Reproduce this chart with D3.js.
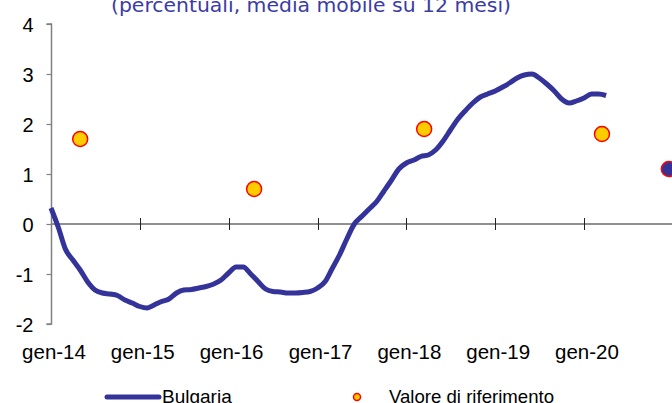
<!DOCTYPE html>
<html>
<head>
<meta charset="utf-8">
<script src="https://cdn.jsdelivr.net/npm/d3@7"></script>
<style>
  html, body { margin: 0; padding: 0; background: #fff; }
  svg { display: block; }
</style>
</head>
<body>
<svg id="chart" width="672" height="403"></svg>
<script>
// Bulgaria, monthly values from gen-14 to apr-20
var bulgariaStart = new Date(2014, 0, 1);
var bulgaria = [
    0.32, -0.08, -0.5, -0.72, -0.92, -1.16, -1.32, -1.38, -1.40, -1.43, -1.52, -1.58,
    -1.65, -1.68, -1.62, -1.55, -1.50, -1.38, -1.32, -1.31, -1.28, -1.25, -1.20, -1.12,
    -0.98, -0.86, -0.86, -1.00, -1.15, -1.30, -1.35, -1.36, -1.38, -1.38, -1.37, -1.35,
    -1.28, -1.15, -0.90, -0.62, -0.30, 0.00, 0.15, 0.30, 0.45, 0.66, 0.88, 1.10,
    1.22, 1.28, 1.35, 1.38, 1.48, 1.66, 1.88, 2.10, 2.27, 2.42, 2.54, 2.60,
    2.66, 2.74, 2.82, 2.92, 2.98, 3.00, 2.92, 2.80, 2.66, 2.50, 2.42, 2.46,
    2.52, 2.60, 2.60, 2.57
];
// Valore di riferimento
var refDates = [new Date(2014, 4, 1), new Date(2016, 3, 15), new Date(2018, 2, 15), new Date(2020, 2, 15)];
var refValues = [1.7, 0.7, 1.9, 1.8];
// last Bulgaria point
var lastDate = [new Date(2020, 11, 15)];
var lastValue = [1.1];

var yTicks = [-2, -1, 0, 1, 2, 3, 4];
var xTickYears = [2014, 2015, 2016, 2017, 2018, 2019, 2020];
var xTickLabels = ['gen-14', 'gen-15', 'gen-16', 'gen-17', 'gen-18', 'gen-19', 'gen-20'];

var svg = d3.select('#chart');
var x = d3.scaleTime().domain([new Date(2014, 0, 1), new Date(2021, 0, 1)]).range([51, 673]);
var y = d3.scaleLinear().domain([-2, 4]).range([324, 24]);

var font = '"Liberation Sans", Arial, sans-serif';

// title (cut at the top)
svg.append('text')
   .attr('x', 111).attr('y', 12)
   .attr('textLength', 400).attr('lengthAdjust', 'spacingAndGlyphs')
   .style('font-family', '"DejaVu Sans", sans-serif')
   .style('font-size', '19px')
   .style('fill', '#3b3ba6')
   .text('(percentuali, media mobile su 12 mesi)');

// zero line and year ticks
svg.append('line')
   .attr('x1', 51).attr('x2', 672)
   .attr('y1', y(0)).attr('y2', y(0))
   .attr('stroke', '#222').attr('stroke-width', 1);
svg.selectAll('.xtick').data(xTickYears).enter().append('line')
   .attr('class', 'xtick')
   .attr('x1', function(d) { return Math.round(x(new Date(d, 0, 1))) + 0.5; })
   .attr('x2', function(d) { return Math.round(x(new Date(d, 0, 1))) + 0.5; })
   .attr('y1', y(0) - 6).attr('y2', y(0) + 6)
   .attr('stroke', '#222').attr('stroke-width', 1);

// y axis
var yAxis = d3.axisLeft(y).tickValues(yTicks).tickSize(5).tickPadding(13)
              .tickFormat(function(d) { return String(d); });
var yg = svg.append('g').attr('transform', 'translate(51.5,0)').call(yAxis);
yg.select('.domain').attr('stroke', '#808080').attr('stroke-width', 1.5)
  .attr('d', 'M-5,' + y(4) + 'H0V' + y(-2) + 'H-5');
yg.selectAll('.tick line').attr('stroke', '#808080').attr('stroke-width', 1.2);
yg.selectAll('.tick text')
  .style('font-family', font).style('font-size', '20px').style('fill', '#000')
  .attr('dy', '0.36em');

// x labels
svg.selectAll('.xlabel').data(xTickYears).enter().append('text')
   .attr('class', 'xlabel')
   .attr('x', function(d) { return x(new Date(d, 0, 1)) + 3; })
   .attr('y', 359)
   .attr('text-anchor', 'middle')
   .style('font-family', font).style('font-size', '20.5px').style('fill', '#000')
   .text(function(d, i) { return xTickLabels[i]; });

// Bulgaria line
var line = d3.line()
    .x(function(d, i) { return x(d3.timeMonth.offset(bulgariaStart, i)); })
    .y(function(d) { return y(d); })
    .curve(d3.curveMonotoneX);
svg.append('path').datum(bulgaria)
   .attr('d', line)
   .attr('fill', 'none').attr('stroke', '#333399').attr('stroke-width', 5)
   .attr('stroke-linejoin', 'round');

// reference points
svg.selectAll('.ref').data(refValues).enter().append('circle')
   .attr('class', 'ref')
   .attr('cx', function(d, i) { return x(refDates[i]); })
   .attr('cy', function(d) { return y(d); })
   .attr('r', 7.5)
   .attr('fill', '#ffcc00').attr('stroke', '#ff0000').attr('stroke-width', 1.5);

svg.selectAll('.last').data(lastValue).enter().append('circle')
   .attr('class', 'last')
   .attr('cx', function(d, i) { return x(lastDate[i]); })
   .attr('cy', function(d) { return y(d); })
   .attr('r', 7.5)
   .attr('fill', '#333399').attr('stroke', '#ff0000').attr('stroke-width', 1.5);

// legend
var legend = svg.append('g');
legend.append('line')
      .attr('x1', 107).attr('x2', 159).attr('y1', 397).attr('y2', 397)
      .attr('stroke', '#333399').attr('stroke-width', 5).attr('stroke-linecap', 'round');
legend.append('text').attr('x', 162).attr('y', 403)
      .style('font-family', font).style('font-size', '19px').text('Bulgaria');
legend.append('circle').attr('cx', 357).attr('cy', 397).attr('r', 3.5)
      .attr('fill', '#ffcc00').attr('stroke', '#ff0000').attr('stroke-width', 1.5);
legend.append('text').attr('x', 389).attr('y', 403)
      .style('font-family', font).style('font-size', '18.6px').text('Valore di riferimento');
</script>
</body>
</html>
